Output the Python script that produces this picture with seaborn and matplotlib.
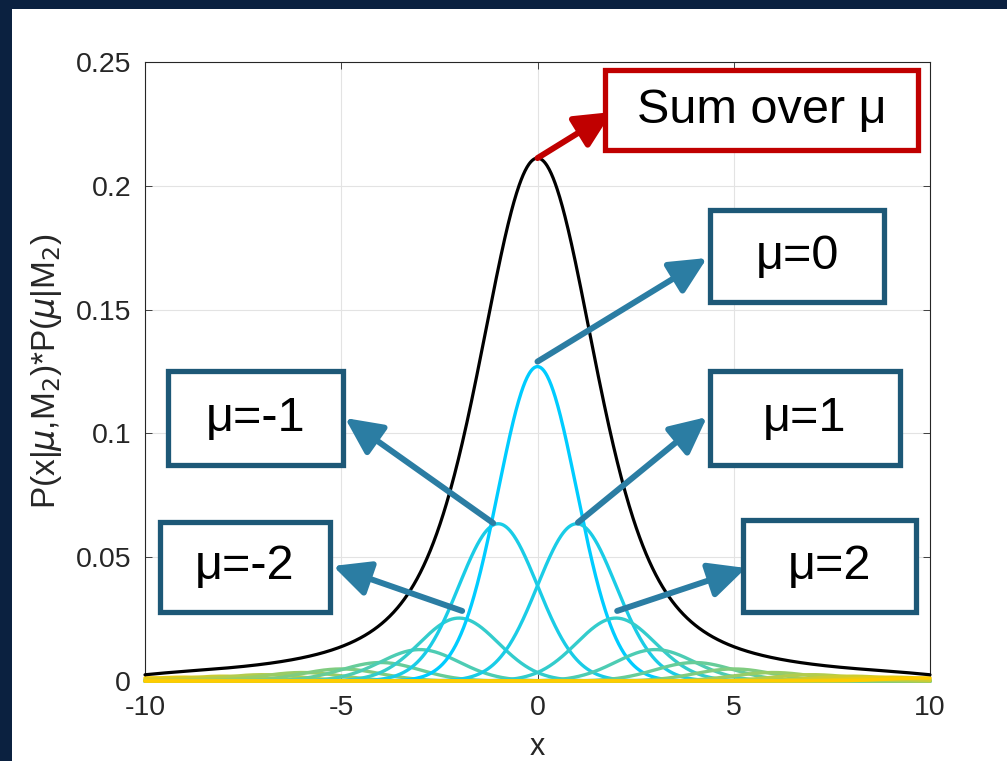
import numpy as np
import pandas as pd
import matplotlib
matplotlib.use("Agg")
import matplotlib.pyplot as plt
from matplotlib.patches import Rectangle
import seaborn as sns

# valores de mu e peso a priori P(mu|M2) (pico de cada curva / 0.399)
mu_values = [-10, -9, -8, -7, -6, -5, -4, -3, -2, -1, 0, 1, 2, 3, 4, 5, 6, 7, 8, 9, 10]
prior_weights = [0.0032, 0.0039, 0.0049, 0.0064, 0.0086, 0.0122, 0.0187, 0.0318, 0.0637, 0.1592,
                 0.3183, 0.1592, 0.0637, 0.0318, 0.0187, 0.0122, 0.0086, 0.0064, 0.0049, 0.0039, 0.0032]
sigma = 1.0
x_limits = [-10, 10]
y_limits = [0, 0.25]
x_ticks = [-10, -5, 0, 5, 10]
x_tick_labels = ["-10", "-5", "0", "5", "10"]
y_ticks = [0, 0.05, 0.1, 0.15, 0.2, 0.25]
y_tick_labels = ["0", "0.05", "0.1", "0.15", "0.2", "0.25"]

# caixas: texto, canto (px imagem), tamanho, ponto de origem da seta (dados), ponta da seta (px imagem)
anotacoes = [
    ("Sum over \u03bc", (605, 70), (313, 80), (0.0, None), (612, 112), "#c00000", "#c00000"),
    ("\u03bc=0", (710, 210), (174, 92), (0.0, 0.129), (707, 258), "#1d5877", "#2b7da3"),
    ("\u03bc=-1", (168, 371), (175, 94), (-1.13, 0.0638), (345, 418), "#1d5877", "#2b7da3"),
    ("\u03bc=1", (710, 371), (190, 94), (1.03, 0.064), (707, 417), "#1d5877", "#2b7da3"),
    ("\u03bc=-2", (160, 522), (170, 90), (-1.92, 0.0283), (333, 566), "#1d5877", "#2b7da3"),
    ("\u03bc=2", (743, 520), (173, 92), (2.03, 0.0283), (746, 568), "#1d5877", "#2b7da3"),
]

W, H = 1007, 761


def montar_dados():
    """Monta o DataFrame longo com uma curva por valor de mu."""
    x = np.linspace(x_limits[0], x_limits[1], 1201)
    linhas = []
    for mu, w in zip(mu_values, prior_weights):
        dens = w * np.exp(-0.5 * ((x - mu) / sigma) ** 2) / (sigma * np.sqrt(2 * np.pi))
        linhas.append(pd.DataFrame({"x": x, "p": dens, "mu": mu}))
    df = pd.concat(linhas, ignore_index=True)
    soma = df.groupby("x", as_index=False)["p"].sum()
    return df, soma


def cor_mu(mu):
    t = abs(mu) / max(abs(m) for m in mu_values)
    return (t, 0.8, 1 - t)


def main():
    sns.set_theme(style="ticks")
    plt.rcParams["font.family"] = ["Liberation Sans", "DejaVu Sans"]
    plt.rcParams["mathtext.fontset"] = "dejavusans"
    plt.rcParams["axes.unicode_minus"] = False

    df, soma = montar_dados()

    fig = plt.figure(figsize=(W / 100, H / 100), dpi=100)
    fig.patch.set_facecolor("white")
    ax = fig.add_axes([145 / W, 1 - 681 / H, (930 - 145) / W, (681 - 62) / H])

    paleta = {mu: cor_mu(mu) for mu in mu_values}
    sns.lineplot(data=df, x="x", y="p", hue="mu", palette=paleta, hue_order=mu_values,
                 linewidth=2.4, legend=False, ax=ax, estimator=None, sort=False)
    sns.lineplot(data=soma, x="x", y="p", color="black", linewidth=2.3, ax=ax, estimator=None)
    for ln in ax.lines:
        ln.set_clip_on(False)
        ln.set_zorder(3)

    ax.set_xlim(x_limits)
    ax.set_ylim(y_limits)
    ax.set_xticks(x_ticks)
    ax.set_xticklabels(x_tick_labels)
    ax.set_yticks(y_ticks)
    ax.set_yticklabels(y_tick_labels)
    ax.tick_params(direction="in", length=5, width=0.6, labelsize=20.5, colors="#262626",
                   top=True, right=True)
    ax.tick_params(axis="x", pad=10)
    ax.tick_params(axis="y", pad=10)
    for s in ax.spines.values():
        s.set_linewidth(0.8)
        s.set_color("#262626")
    ax.grid(True, color="#e3e3e3", linewidth=0.8)
    ax.set_axisbelow(True)
    ax.set_xlabel("x", fontsize=22, color="#262626", labelpad=8)
    ax.set_ylabel(r"P(x|$\mu$,M$_2$)*P($\mu$|M$_2$)", fontsize=24, color="#262626", labelpad=8)

    pico_soma = soma["p"].max()

    for texto, (bx, by), (bw, bh), origem, ponta, cor_caixa, cor_seta in anotacoes:
        ox, oy = origem
        if oy is None:
            oy = pico_soma
        ax.annotate("", xy=(ponta[0], H - ponta[1]), xycoords="figure pixels",
                    xytext=(ox, oy), textcoords="data",
                    arrowprops=dict(arrowstyle="-|>,head_length=0.62,head_width=0.3",
                                    mutation_scale=36, color=cor_seta, lw=4.3,
                                    shrinkA=0, shrinkB=0),
                    annotation_clip=False, zorder=5)
        rect = Rectangle((bx / W, 1 - (by + bh) / H), bw / W, bh / H, transform=fig.transFigure,
                         facecolor="white", edgecolor=cor_caixa, linewidth=3.8, zorder=10)
        fig.add_artist(rect)
        fig.text((bx + bw / 2) / W, 1 - (by + bh / 2) / H, texto, fontsize=35, color="black",
                 ha="center", va="center", zorder=11)

    # moldura escura (topo e esquerda)
    fig.add_artist(Rectangle((0, 1 - 9 / H), 1, 9 / H, transform=fig.transFigure,
                             facecolor="#0b2140", edgecolor="none", zorder=20))
    fig.add_artist(Rectangle((0, 0), 12 / W, 1, transform=fig.transFigure,
                             facecolor="#0b2140", edgecolor="none", zorder=20))

    fig.savefig("out.png", dpi=100)
    plt.close(fig)


if __name__ == "__main__":
    main()
